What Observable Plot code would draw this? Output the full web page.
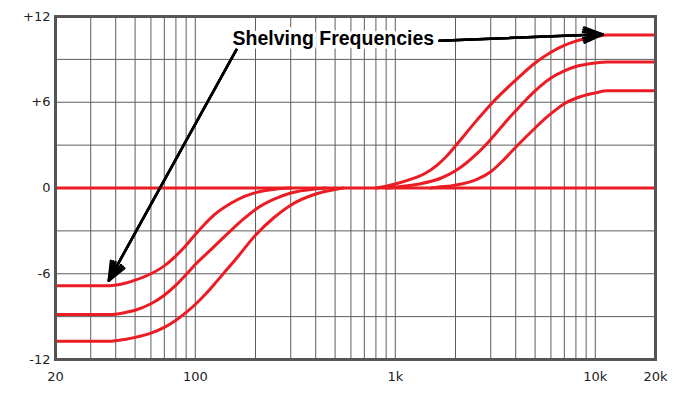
<!DOCTYPE html>
<html>
<head>
<meta charset="utf-8">
<script src="https://cdn.jsdelivr.net/npm/d3@7"></script>
<script src="https://cdn.jsdelivr.net/npm/@observablehq/plot@0.6"></script>
<style>
  html, body { margin: 0; padding: 0; background: #ffffff; }
</style>
</head>
<body>
<div id="chart"></div>
<script>
// ---- Data (frequency in Hz, gain in dB) ----
const lowShelfA = [[20,-6.84],[37,-6.84],[45,-6.65],[50,-6.45],[60,-6.0],[70,-5.45],[80,-4.75],[90,-4.0],[100,-3.25],[112,-2.5],[125,-1.85],[150,-1.08],[175,-0.6],[200,-0.32],[250,-0.08],[300,0]];
const lowShelfB = [[20,-8.86],[37,-8.86],[45,-8.7],[50,-8.55],[60,-8.1],[70,-7.5],[80,-6.8],[90,-6.05],[100,-5.35],[120,-4.3],[150,-3.0],[175,-2.15],[200,-1.5],[246,-0.8],[300,-0.35],[400,-0.06],[450,0]];
const lowShelfC = [[20,-10.73],[37,-10.73],[45,-10.58],[50,-10.45],[60,-10.15],[70,-9.75],[80,-9.25],[90,-8.7],[100,-8.15],[112,-7.45],[125,-6.7],[140,-5.9],[160,-4.95],[200,-3.3],[246,-2.1],[300,-1.2],[400,-0.42],[500,-0.1],[550,0]];
const highShelfA = [[800,0],[900,0.12],[1000,0.28],[1200,0.62],[1400,1.0],[1620,1.6],[1800,2.2],[2000,2.95],[2560,4.75],[3000,5.85],[4000,7.55],[5000,8.75],[6000,9.5],[7000,9.98],[8000,10.28],[10000,10.58],[11500,10.7],[20000,10.7]];
const highShelfB = [[900,0],[1000,0.06],[1340,0.3],[1700,0.7],[2000,1.2],[2560,2.4],[3000,3.4],[3500,4.5],[4000,5.4],[5000,6.8],[6000,7.7],[7000,8.2],[8000,8.5],[10000,8.75],[11500,8.82],[20000,8.82]];
const highShelfC = [[1500,0],[1620,0.06],[2000,0.2],[2560,0.6],[3000,1.14],[3500,2.0],[4000,2.85],[5000,4.2],[5500,4.75],[6000,5.2],[7000,5.9],[8000,6.28],[10000,6.65],[11500,6.8],[20000,6.8]];
const flatResponse = [[20,0],[20000,0]];

// ---- Axes / grid ----
const xGridValues = [30,40,50,60,70,80,90,100,200,300,400,500,600,700,800,900,1000,2000,3000,4000,5000,6000,7000,8000,9000,10000];
const yGridValues = [-9,-6,-3,3,6,9];
const xTickValues = [20,100,1000,10000,20000];
const xTickLabels = ["20","100","1k","10k","20k"];
const yTickValues = [-12,-6,0,6,12];
const yTickLabels = ["-12","-6","0","+6","+12"];

// ---- Annotation (data coordinates: Hz, dB) ----
const annotationText = ["Shelving Frequencies"];
const annotationAt = [[490, 10.41]];
const arrowLinks = [
  {from: [160.6, 9.68], to: [36.9, -6.49]},
  {from: [1664, 10.31], to: [10900, 10.75]}
];

const xLabel = new Map(xTickValues.map((v, i) => [v, xTickLabels[i]]));
const yLabel = new Map(yTickValues.map((v, i) => [v, yTickLabels[i]]));

const red = "#ec1c24";
const gridColor = "#5e5e5e";
const curves = [flatResponse, lowShelfA, lowShelfB, lowShelfC, highShelfA, highShelfB, highShelfC];

const arrowOpts = (angle) => ({
  x1: d => d.from[0], y1: d => d.from[1],
  x2: d => d.to[0], y2: d => d.to[1],
  stroke: "black", strokeWidth: 2.5,
  headLength: 12, headAngle: angle
});

const chart = Plot.plot({
  width: 700,
  height: 400,
  marginLeft: 55,
  marginRight: 45,
  marginTop: 16,
  marginBottom: 41,
  style: {fontFamily: "DejaVu Sans", fontSize: "13px", color: "#222", background: "#ffffff"},
  x: {type: "log", domain: [20, 20000], label: null},
  y: {domain: [-12, 12], label: null},
  marks: [
    Plot.ruleX(xGridValues, {stroke: gridColor, strokeWidth: 1}),
    Plot.ruleY(yGridValues, {stroke: gridColor, strokeWidth: 1}),
    ...curves.map(c => Plot.line(c, {
      x: d => d[0], y: d => d[1],
      stroke: red, strokeWidth: 3, curve: "monotone-x"
    })),
    Plot.frame({stroke: "#555555", strokeWidth: 3}),
    Plot.axisX(xTickValues, {tickSize: 0, tickPadding: 12, tickFormat: d => xLabel.get(d), fontSize: 13, label: null}),
    Plot.axisY(yTickValues, {tickSize: 0, tickPadding: 5, tickFormat: d => yLabel.get(d), fontSize: 13, label: null}),
    Plot.arrow(arrowLinks, arrowOpts(45)),
    Plot.arrow(arrowLinks, arrowOpts(32)),
    Plot.arrow(arrowLinks, arrowOpts(18)),
    Plot.text(annotationText, {
      x: (d, i) => annotationAt[i][0],
      y: (d, i) => annotationAt[i][1],
      text: d => d,
      fontFamily: "Liberation Sans",
      fontWeight: "bold",
      fontSize: 19.5,
      fill: "black",
      stroke: "white",
      strokeWidth: 7
    })
  ]
});

document.getElementById("chart").appendChild(chart);
</script>
</body>
</html>
